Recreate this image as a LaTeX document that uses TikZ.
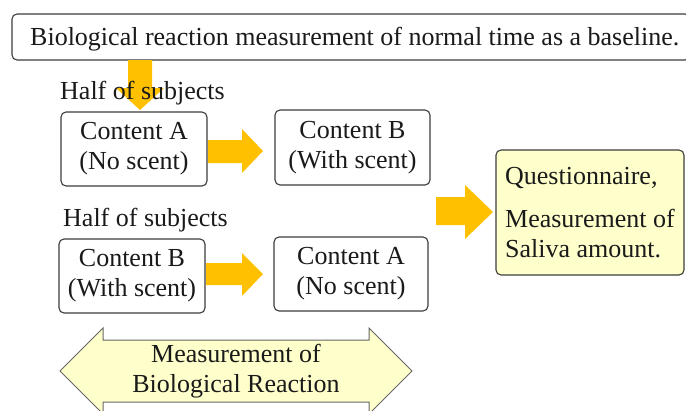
\documentclass[tikz,border=0pt]{standalone}
\usepackage{fontspec}
\setmainfont{Liberation Serif}
\newfontfamily\tnr{Liberation Serif}
\definecolor{arrowyellow}{HTML}{FFC000}
\definecolor{paleyellow}{HTML}{FFFFCC}
\definecolor{boxline}{HTML}{3C3C3C}
\definecolor{txt}{HTML}{1A1A1A}
\begin{document}
\begin{tikzpicture}[x=1pt,y=-1pt,
  txtfont/.style={font=\tnr\fontsize{26}{30}\selectfont, text=txt},
  cbox/.style={draw=boxline, line width=1.1pt, rounded corners=5pt, fill=white, align=center, txtfont, inner sep=0pt},
  blockarrow/.style={fill=arrowyellow, draw=none},
  lbl/.style={txtfont, inner sep=0pt, anchor=west}
]
\useasboundingbox (0,0) rectangle (686,410);

% top box
\node[cbox, minimum width=678pt, minimum height=46pt] (base) at (351,37) {};
\node[lbl] (baset) at (30,39) {Biological reaction measurement of normal time as a baseline.};

% down arrow
\fill[blockarrow] (128,60) -- (152,60) -- (152,88) -- (164,88) -- (140,110) -- (116,88) -- (128,88) -- cycle;

% labels
\node[lbl] (half1) at (60,93) {Half of subjects};
\node[lbl] (half2) at (63,220) {Half of subjects};

% content boxes
\node[cbox, minimum width=146pt, minimum height=74pt] (ca1) at (134,149) {Content A\\(No scent)};
\node[cbox, minimum width=155pt, minimum height=75pt] (cb1) at (352.5,147.5) {Content B\\(With scent)};
\node[cbox, minimum width=146pt, minimum height=74pt] (cb2) at (132,276) {Content B\\(With scent)};
\node[cbox, minimum width=154pt, minimum height=74pt] (ca2) at (351,274) {Content A\\(No scent)};

% questionnaire
\node[cbox, fill=paleyellow, minimum width=188pt, minimum height=125pt, align=left] (q) at (590,212.5)
  {Questionnaire,\\[13pt]Measurement of\\Saliva amount.};

% right arrows
\fill[blockarrow] (208,140) -- (242,140) -- (242,129) -- (263,151) -- (242,173) -- (242,163) -- (208,163) -- cycle;
\fill[blockarrow] (206,263) -- (242,263) -- (242,253) -- (263,274) -- (242,296) -- (242,285) -- (206,285) -- cycle;
\fill[blockarrow] (436,197) -- (465,197) -- (465,185) -- (493,212) -- (465,239) -- (465,225) -- (436,225) -- cycle;

% double arrow
\draw[draw=gray!80!black, line width=1pt, fill=paleyellow, line join=miter]
  (60,371) -- (103,328) -- (103,340) -- (369,340) -- (369,328) -- (412,371) -- (369,414) -- (369,402) -- (103,402) -- (103,414) -- cycle;
\node[txtfont, align=center, inner sep=0pt] (meas) at (236,371) {Measurement of\\Biological Reaction};
\end{tikzpicture}
\end{document}
